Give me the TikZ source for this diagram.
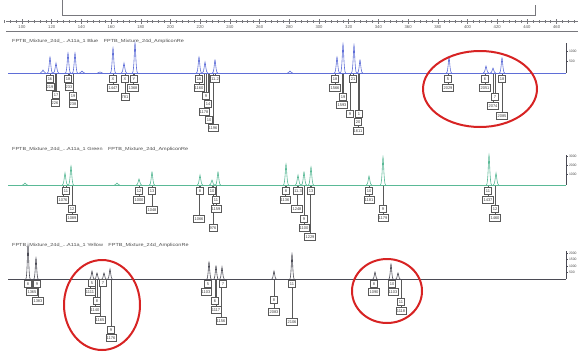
\documentclass[tikz,border=0pt]{standalone}
\usepackage{fontspec}
\setmainfont{Liberation Sans}
\usetikzlibrary{backgrounds,shapes.geometric}
\definecolor{tblue}{RGB}{95,110,215}
\definecolor{tgreen}{RGB}{90,185,150}
\definecolor{tdark}{RGB}{75,75,85}
\definecolor{ringred}{RGB}{215,35,35}
\definecolor{rulegray}{RGB}{120,120,125}
\tikzset{
  lbox/.style={draw=black!65, fill=white, line width=0.4pt, inner xsep=0.9pt, inner ysep=0.4pt,
    minimum width=7pt, minimum height=6.8pt, font=\fontsize{4}{4.2}\selectfont, text=black!75},
  lead/.style={draw=black!65, line width=0.4pt},
  ttl/.style={font=\fontsize{4.4}{5}\selectfont, text=black!70, anchor=west, inner sep=0pt},
  axl/.style={font=\fontsize{3.4}{3.6}\selectfont, text=black!70, anchor=west, inner sep=0.3pt},
  rul/.style={font=\fontsize{4.2}{4.4}\selectfont, text=black!65, inner sep=0pt},
  ring/.style={draw=ringred, line width=2pt},
  frame/.style={draw=rulegray, line width=0.6pt},
}
\newcommand\basey{73}
\newcommand\lab[4]{%
  \node[lbox] (#1) at (#2,#3) {#4};
  \coordinate (#1f) at (#2,\basey);
  \begin{pgfonlayer}{background}\draw[lead] (#1f) -- (#1.north);\end{pgfonlayer}}
\newcommand\ttltext[1]{\scalebox{1.25}[1]{FPTB\_Mixture\_24d\_...A11a\_1 #1\quad FPTB\_Mixture\_24d\_AmpliconRe}}
\begin{document}
\begin{tikzpicture}[x=1pt,y=-1pt]
\useasboundingbox (0,0) rectangle (580,351);
% top bracket
\coordinate (bA) at (62,0); \coordinate (bB) at (62,15);
\coordinate (bC) at (535,15); \coordinate (bD) at (535,5);
\draw[frame] (bA) -- (bB) -- (bC) -- (bD);
% ruler
\coordinate (rL) at (6,21.5); \coordinate (rR) at (578,21.5);
\coordinate (rL2) at (6,31); \coordinate (rR2) at (578,31);
\draw[frame] (rL) -- (rR);
\draw[frame,line width=0.8pt] (rL2) -- (rR2);
\foreach \i in {-3,...,93} \draw[rulegray,line width=0.45pt] ({22+5.94*\i},20.3) -- ({22+5.94*\i},22.7);
\foreach \i [evaluate=\i as \v using int(100+20*\i)] in {0,...,18} {
  \draw[rulegray,line width=0.55pt] ({22+29.7*\i},19) -- ({22+29.7*\i},23.5);
  \node[rul] at ({22+29.7*\i},27) {\v};}
% ================= panel 1 (blue)
\node[ttl] (t1) at (12,41) {\ttltext{Blue}};
\coordinate (b1L) at (8,73); \coordinate (b1R) at (566,73);
\draw[tblue,line width=0.6pt] (b1L) -- (b1R);
\foreach \x/\t in {43/70,50/57,56/63,68/53,75/53,82/71,100/72,113/48,124/63,135/43,199/57,205/62,215/60,290/71,337/57,343/44,354/45,360/60,449/57,486/66,493/68,502/58}
  \draw[tblue,line width=0.6pt] (\x-2.6,73) .. controls (\x-0.9,73) and (\x-0.5,\t) .. (\x,\t) .. controls (\x+0.5,\t) and (\x+0.9,73) .. (\x+2.6,73);
\coordinate (ax1a) at (566,43); \coordinate (ax1b) at (566,73);
\draw[tdark,line width=0.5pt] (ax1a) -- (ax1b);
\draw[tdark,line width=0.4pt] (566,51) -- (568,51) (566,61) -- (568,61);
\node[axl] (a1l1) at (568.5,51) {1000};
\node[axl] (a1l2) at (568.5,61) {500};
\renewcommand\basey{73}
\lab{a1}{50}{79}{16}\lab{a2}{50}{87}{219}\lab{a3}{56}{95}{17}\lab{a4}{55}{103}{226}
\lab{a5}{68}{79}{18}\lab{a6}{69}{87}{233}\lab{a7}{73}{96}{19}\lab{a8}{73}{104}{238}
\lab{b1}{113}{79}{X}\lab{b2}{113}{88}{1447}\lab{b3}{125}{79}{X}\lab{b4}{125}{97}{781}
\lab{b5}{134}{79}{Y}\lab{b6}{133}{88}{1368}
\lab{c1}{199}{79}{16}\lab{c2}{199}{88}{1160}\lab{c3}{206}{96}{9}\lab{c4}{208}{104}{14}
\lab{c5}{204}{112}{1178}\lab{c6}{209}{120}{10}\lab{c7}{213}{128}{1196}\lab{c8}{215}{79}{11.2}
\lab{d1}{335}{79}{18}\lab{d2}{335}{88}{1566}\lab{d3}{343}{97}{19}\lab{d4}{342}{105}{1593}
\lab{d5}{350}{114}{9}\lab{d6}{359}{114}{1}\lab{d7}{358}{122}{20}\lab{d8}{358}{131}{1611}
\lab{d9}{353}{79}{21}
\lab{e1}{448}{79}{5}\lab{e2}{448}{88}{2029}\lab{e3}{485}{79}{6}\lab{e4}{485}{88}{2051}
\lab{e5}{495}{97}{7}\lab{e6}{493}{106}{2074}\lab{e7}{502}{79}{18}\lab{e8}{502}{116}{2085}
% ================= panel 2 (green)
\node[ttl] (t2) at (12,149) {\ttltext{Green}};
\coordinate (b2L) at (8,185); \coordinate (b2R) at (566,185);
\draw[tgreen,line width=0.6pt] (b2L) -- (b2R);
\foreach \x/\t in {25/183,65/173,71/166,117/183,139/179,152/172,200/175,212/180,218/172,286/164,298/175,304/172,311/167,369/176,383/157,489/155,496/173}
  \draw[tgreen,line width=0.6pt] (\x-2.6,185) .. controls (\x-0.9,185) and (\x-0.5,\t) .. (\x,\t) .. controls (\x+0.5,\t) and (\x+0.9,185) .. (\x+2.6,185);
\coordinate (ax2a) at (566,155); \coordinate (ax2b) at (566,185);
\draw[tdark,line width=0.5pt] (ax2a) -- (ax2b);
\draw[tdark,line width=0.4pt] (566,156) -- (568,156) (566,165) -- (568,165) (566,174) -- (568,174);
\node[axl] (a2l1) at (568.5,156) {3000};
\node[axl] (a2l2) at (568.5,165) {2000};
\node[axl] (a2l3) at (568.5,174) {1000};
\renewcommand\basey{185}
\lab{f1}{66}{191}{11}\lab{f2}{63}{200}{1076}\lab{f3}{72}{209}{12}\lab{f4}{72}{218}{1089}
\lab{g1}{139}{191}{12}\lab{g2}{139}{200}{1000}\lab{g3}{152}{191}{13}\lab{g4}{152}{210}{1048}
\lab{h1}{200}{191}{8}\lab{h2}{212}{191}{10}\lab{h3}{216}{200}{11}\lab{h4}{216}{209}{1159}
\lab{h5}{199}{219}{1066}\lab{h6}{213}{228}{976}
\lab{i1}{286}{191}{8}\lab{i2}{285}{200}{1136}\lab{i3}{298}{191}{11.3}\lab{i4}{311}{191}{13}
\lab{i5}{297}{209}{1248}\lab{i6}{304}{219}{9}\lab{i7}{304}{228}{1100}\lab{i8}{310}{237}{1229}
\lab{j1}{369}{191}{10}\lab{j2}{369}{200}{1181}\lab{j3}{383}{209}{9}\lab{j4}{383}{218}{1179}
\lab{k1}{488}{191}{11}\lab{k2}{488}{200}{1437}\lab{k3}{495}{209}{12}\lab{k4}{495}{218}{1460}
% ================= panel 3 (dark)
\node[ttl] (t3) at (12,245) {\ttltext{Yellow}};
\coordinate (b3L) at (8,279); \coordinate (b3R) at (566,279);
\draw[tdark,line width=0.6pt] (b3L) -- (b3R);
\foreach \x/\t in {28/245,36/258,92/271,97/273,104/273,110/269,209/262,216/266,222/267,274/271,292/254,375/272,391/264,398/273}
  \draw[tdark,line width=0.6pt] (\x-2.2,279) .. controls (\x-0.8,279) and (\x-0.5,\t) .. (\x,\t) .. controls (\x+0.5,\t) and (\x+0.8,279) .. (\x+2.2,279);
\coordinate (ax3a) at (566,251); \coordinate (ax3b) at (566,279);
\draw[tdark,line width=0.5pt] (ax3a) -- (ax3b);
\draw[tdark,line width=0.4pt] (566,253) -- (568,253) (566,259) -- (568,259) (566,266) -- (568,266) (566,272) -- (568,272);
\node[axl] (a3l1) at (568.5,253) {2000};
\node[axl] (a3l2) at (568.5,259) {1500};
\node[axl] (a3l3) at (568.5,266) {1000};
\node[axl] (a3l4) at (568.5,272) {500};
\renewcommand\basey{279}
\lab{l1}{28}{284}{8}\lab{l2}{37}{284}{9}\lab{l3}{32}{292}{1365}\lab{l4}{38}{301}{1383}
\lab{m1}{92}{283}{5}\lab{m2}{103}{283}{7}\lab{m3}{90}{292}{1111}\lab{m4}{97}{301}{8}
\lab{m5}{95}{310}{1140}\lab{m6}{100}{320}{1165}\lab{m7}{111}{330}{9}\lab{m8}{111}{338}{1176}
\lab{n1}{208}{284}{5}\lab{n2}{223}{284}{7}\lab{n3}{206}{292}{1103}\lab{n4}{215}{301}{6}
\lab{n5}{216}{310}{1117}\lab{n6}{221}{321}{1156}
\lab{o1}{274}{300}{8}\lab{o2}{274}{312}{2083}\lab{o3}{292}{284}{11}\lab{o4}{292}{322}{2106}
\lab{p1}{374}{284}{8}\lab{p2}{374}{292}{1090}\lab{p3}{392}{284}{10}\lab{p4}{393}{292}{1103}
\lab{p5}{401}{302}{11}\lab{p6}{401}{311}{1118}
% ================= red rings
\node[ring, ellipse, minimum width=114pt, minimum height=76pt, inner sep=0pt] (r1) at (480,89) {};
\node[ring, ellipse, minimum width=76pt, minimum height=90pt, inner sep=0pt] (r2) at (102,305) {};
\node[ring, ellipse, minimum width=70pt, minimum height=64pt, inner sep=0pt] (r3) at (387,291) {};
\end{tikzpicture}
\end{document}
